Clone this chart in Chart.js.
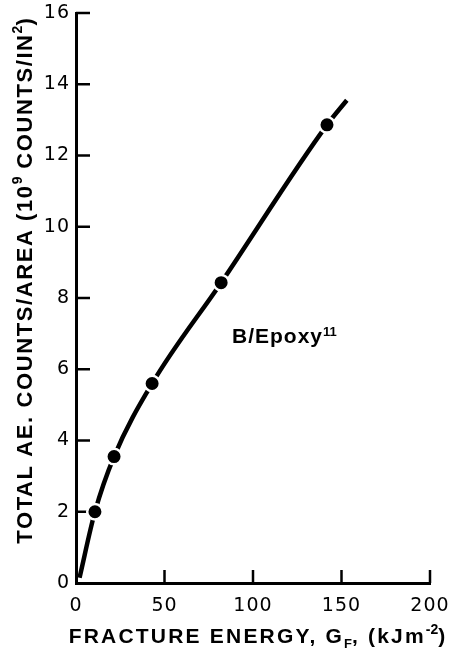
<!DOCTYPE html>
<html>
<head>
<meta charset="utf-8">
<script src="https://cdn.jsdelivr.net/npm/chart.js@4/dist/chart.umd.min.js"></script>
<style>
  html, body { margin: 0; padding: 0; background: #fff; }
  #wrap { width: 451px; height: 657px; }
</style>
</head>
<body>
<div id="wrap"><canvas id="c" width="451" height="657"></canvas></div>
<script>
// Measured specimens: fracture energy (kJ/m^2) vs total AE counts per area (10^9 counts/in^2)
const energy = [10.7, 21.5, 43, 82, 141.8];
const counts = [2.0, 3.55, 5.6, 8.43, 12.86];

// Hand-drawn trend curve through the specimens, with its two free ends
const curveEnergy = [2, 10.7, 21.5, 43, 82, 141.8, 153];
const curveCounts = [0.15, 2.0, 3.55, 5.6, 8.43, 12.86, 13.55];

const xTickValues = [0, 50, 100, 150, 200];
const yTickValues = [0, 2, 4, 6, 8, 10, 12, 14, 16];

const seriesLabel = 'B/Epoxy';
const seriesRef = '11';

const FONT = '"Liberation Sans", Arial, Helvetica, sans-serif';
const TICK_FONT = '"DejaVu Sans", "Liberation Sans", sans-serif';

const toXY = (xs, ys) => xs.map((x, i) => ({ x, y: ys[i] }));

// Draws a run of text pieces; pieces may be raised (superscript) or lowered (subscript)
function drawRuns(ctx, runs, x, y, align) {
  let total = 0;
  runs.forEach(r => { ctx.font = r.font; ctx.letterSpacing = r.ls || '0px'; r.w = ctx.measureText(r.t).width; total += r.w; });
  let cx = align === 'center' ? x - total / 2 : x;
  runs.forEach(r => {
    ctx.font = r.font;
    ctx.letterSpacing = r.ls || '0px';
    ctx.fillText(r.t, cx, y + (r.dy || 0));
    cx += r.w;
  });
  ctx.letterSpacing = '0px';
}

const decorations = {
  id: 'decorations',
  beforeDraw(chart) {
    // slightly spaced digits for the tick labels
    chart.ctx.letterSpacing = '1px';
  },
  beforeDatasetsDraw(chart) {
    const { ctx, scales: { x, y } } = chart;
    ctx.save();
    ctx.strokeStyle = '#000';
    ctx.lineWidth = 2.5;
    ctx.lineCap = 'butt';
    // inward tick marks
    yTickValues.forEach(v => {
      if (v === 0) return;
      const py = y.getPixelForValue(v);
      ctx.beginPath();
      ctx.moveTo(x.left, py);
      ctx.lineTo(x.left + 14, py);
      ctx.stroke();
    });
    xTickValues.forEach(v => {
      if (v === 0) return;
      const px = x.getPixelForValue(v);
      ctx.beginPath();
      ctx.moveTo(px, y.bottom);
      ctx.lineTo(px, y.bottom - 13);
      ctx.stroke();
    });
    ctx.restore();
  },
  afterDraw(chart) {
    const { ctx } = chart;
    ctx.save();
    ctx.letterSpacing = '0px';
    ctx.fillStyle = '#000';
    ctx.textBaseline = 'alphabetic';
    ctx.textAlign = 'left';

    const big = 'bold 21px ' + FONT;
    const yBig = 'bold 22px ' + FONT;
    const sup = 'bold 14px ' + FONT;
    const sub = 'bold 13px ' + FONT;

    // x-axis title
    drawRuns(ctx, [
      { t: 'FRACTURE ENERGY, G', font: big, ls: '2.2px' },
      { t: 'F', font: sub, dy: 5 },
      { t: ', (kJm', font: big, ls: '2.2px' },
      { t: '-2', font: sup, dy: -9 },
      { t: ')', font: big }
    ], 257, 643, 'center');

    // y-axis title, rotated
    ctx.translate(32, 281);
    ctx.rotate(-Math.PI / 2);
    drawRuns(ctx, [
      { t: 'TOTAL AE. COUNTS/AREA (10', font: yBig, ls: '1.6px' },
      { t: '9', font: sup, dy: -10 },
      { t: ' COUNTS/IN', font: yBig, ls: '1.6px' },
      { t: '2', font: sup, dy: -10 },
      { t: ')', font: yBig }
    ], 0, 0, 'center');
    ctx.setTransform(1, 0, 0, 1, 0, 0);

    // series annotation
    drawRuns(ctx, [
      { t: seriesLabel, font: 'bold 21px ' + FONT, ls: '1px' },
      { t: seriesRef, font: 'bold 13px ' + FONT, dy: -7 }
    ], 232, 343, 'left');
    ctx.restore();
  }
};

new Chart(document.getElementById('c'), {
  type: 'scatter',
  data: {
    datasets: [
      {
        label: 'specimens',
        data: toXY(energy, counts),
        showLine: false,
        pointRadius: 7.75,
        pointBorderWidth: 2.5,
        pointBackgroundColor: '#000',
        pointBorderColor: '#fff'
      },
      {
        label: 'trend',
        data: toXY(curveEnergy, curveCounts),
        showLine: true,
        borderColor: '#000',
        borderWidth: 4.5,
        pointRadius: 0,
        cubicInterpolationMode: 'monotone',
        fill: false
      }
    ]
  },
  options: {
    responsive: false,
    animation: false,
    devicePixelRatio: 1,
    layout: { padding: { left: 0, right: 21, top: 13, bottom: 0 } },
    plugins: { legend: { display: false }, tooltip: { enabled: false } },
    scales: {
      x: {
        type: 'linear',
        min: 0, max: 200,
        afterBuildTicks: s => { s.ticks = xTickValues.map(v => ({ value: v })); },
        afterFit: s => { s.height = 74; s.paddingLeft = 0; s.paddingRight = 0; },
        grid: { display: false, drawTicks: false },
        border: { display: true, color: '#000', width: 3 },
        ticks: { color: '#000', padding: 12, font: { family: TICK_FONT, size: 19 }, maxRotation: 0 }
      },
      y: {
        type: 'linear',
        min: 0, max: 16,
        afterBuildTicks: s => { s.ticks = yTickValues.map(v => ({ value: v })); },
        afterFit: s => { s.width = 76; s.paddingTop = 0; s.paddingBottom = 0; },
        grid: { display: false, drawTicks: false },
        border: { display: true, color: '#000', width: 3 },
        ticks: { color: '#000', padding: 6, font: { family: TICK_FONT, size: 19 } }
      }
    }
  },
  plugins: [decorations]
});
</script>
</body>
</html>
